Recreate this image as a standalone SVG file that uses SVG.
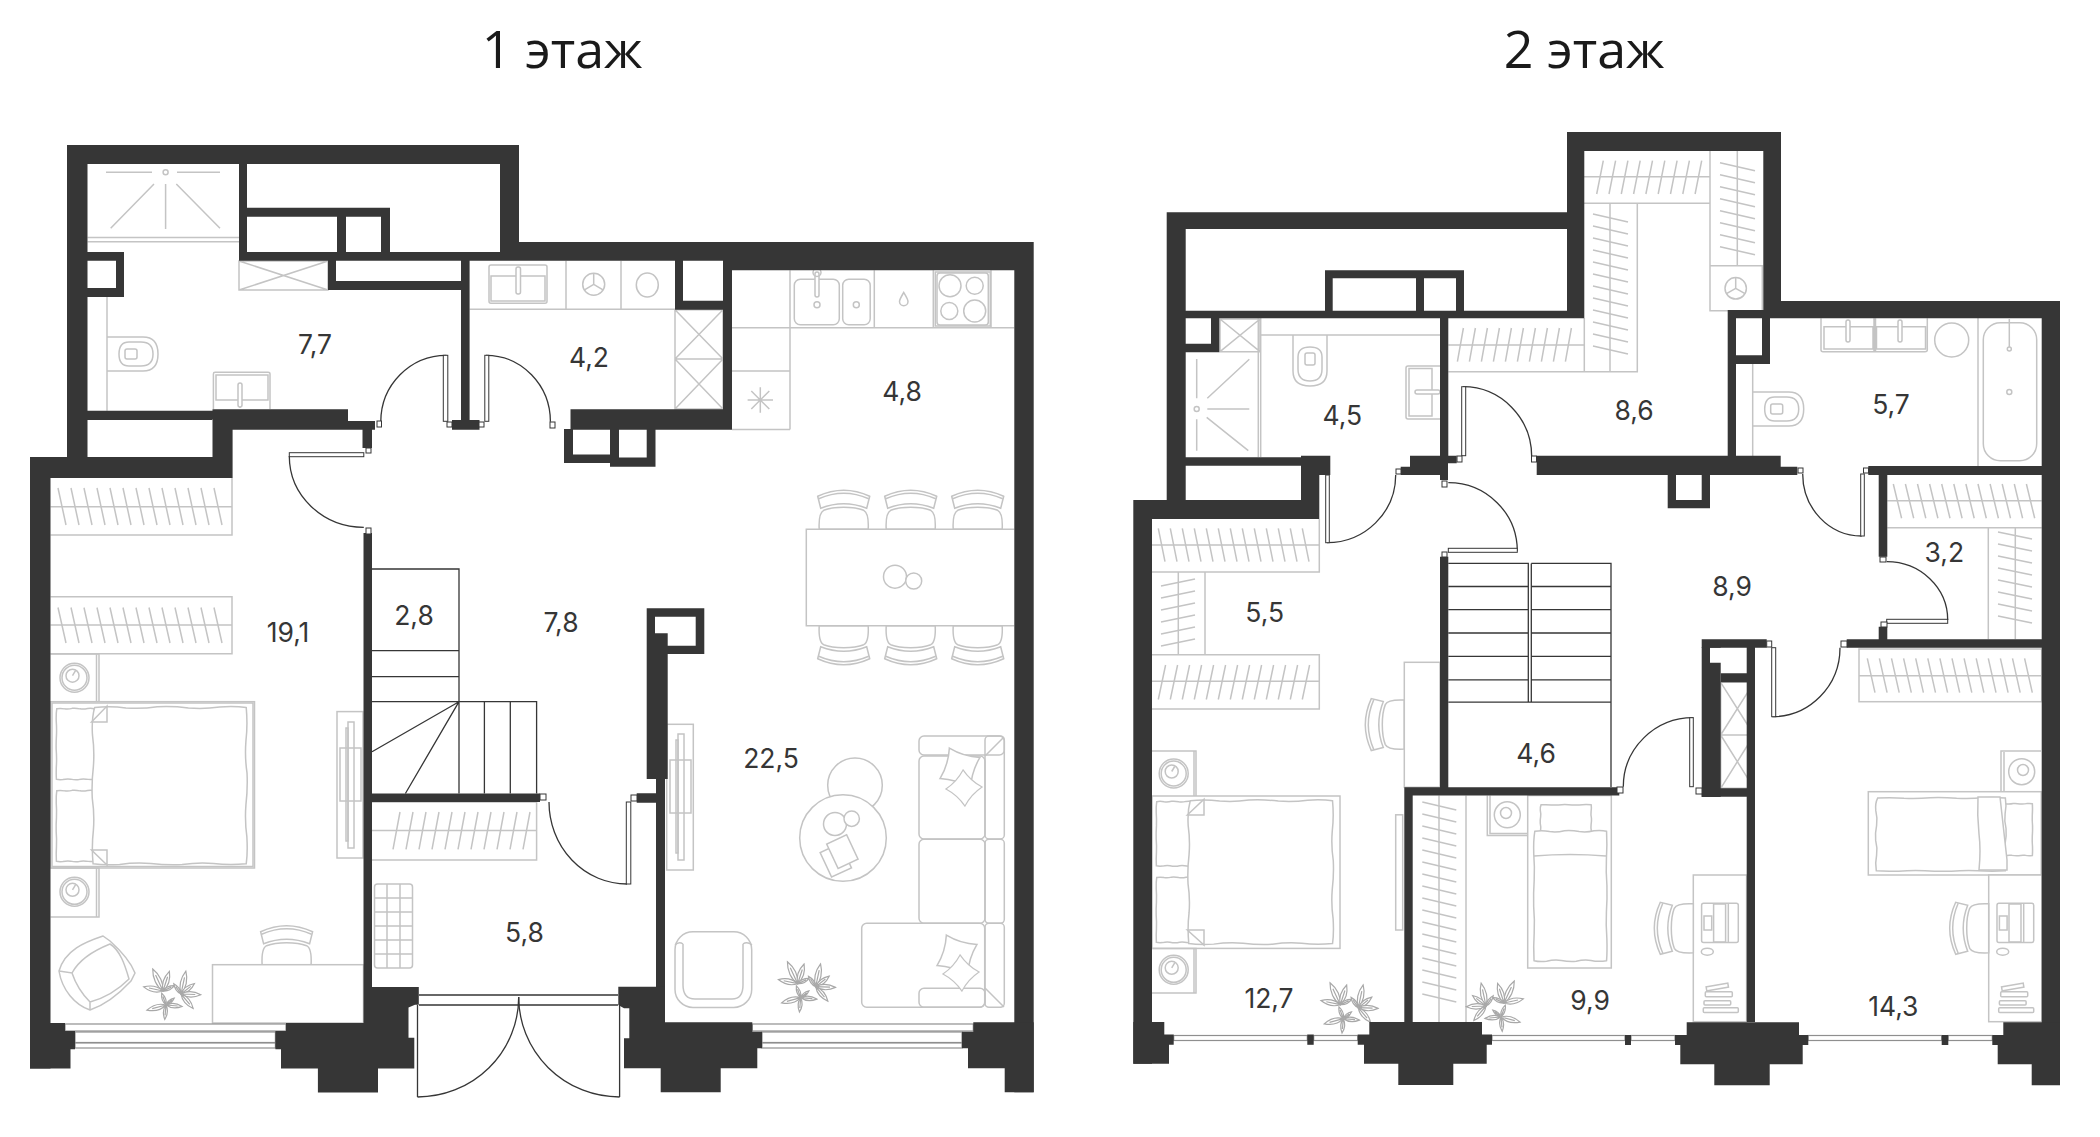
<svg xmlns="http://www.w3.org/2000/svg" width="2100" height="1137" viewBox="0 0 2100 1137">
<style>
.w{fill:#363636}
.e{fill:#363636;fill-rule:evenodd}
.f{fill:none;stroke:#c4c4c4;stroke-width:1.5}
.g{fill:#fff;stroke:#c4c4c4;stroke-width:1.5}
.v{vector-effect:non-scaling-stroke}
.d{fill:none;stroke:#363636;stroke-width:1.3}
.j{fill:#fff;stroke:#363636;stroke-width:1}
.m{fill:#fff;stroke:#8f8f8f;stroke-width:1.2}
.n{font-family:"Inter","Noto Sans",sans-serif;font-size:26.500px;fill:#363636;text-anchor:middle}
.h{font-family:"Open Sans","Noto Sans",sans-serif;font-size:52px;fill:#1a1a1a;text-anchor:middle}
.p{fill:#fff;stroke:#a8a8a8;stroke-width:1.2;vector-effect:non-scaling-stroke}
</style>
<defs>
<g id="ch" class="g"><path d="M-24.5,0C-25,-10 -24,-17 -20,-19C-10,-23 10,-23 20,-19C24,-17 25,-10 24.5,0Z"/><path d="M-26,-33Q0,-45 26,-33L23,-21Q0,-30 -23,-21Z"/><path d="M-25,-30.500Q0,-41.500 25,-30.500" fill="none"/></g>
<path id="blk" class="g v" d="M2,1Q12,0 22,1.200Q32,2 42,.500Q52,0 62,1.200Q72,2 82,.600Q92,0 99,1Q100,12 98.800,22Q98,32 99.500,42Q100,52 98.800,62Q98,72 99.400,82Q100,92 99,99Q88,100 78,98.800Q68,98 58,99.500Q48,100 38,98.800Q28,98 18,99.400Q8,100 1,99Q0,88 1.200,78Q2,68 .500,58Q0,48 1.200,38Q2,28 .600,18Q0,8 2,1Z"/>
<g id="ns" class="f"><circle r="14.500"/><circle r="12.500"/><circle cx="-2" cy="-2" r="6.500"/><path d="M-2,-2L1,-7"/></g>
<g id="wc" class="f"><path d="M0,-17H36Q51,-17 51,0Q51,17 36,17H0"/><path d="M22,-12H34Q46,-12 46,0Q46,12 34,12H22Q12,12 12,0Q12,-12 22,-12Z"/><rect x="18" y="-5" width="12" height="10" rx="2"/></g>
<path id="lf" class="p" d="M0,0C3,-5 3,-12 0,-18C-3,-12 -3,-5 0,0ZM0,0V-13"/>
<g id="pl">
<use href="#lf" transform="translate(-9,-3) rotate(-25) scale(1.350)"/><use href="#lf" transform="translate(-9,-3) rotate(18) scale(1.150)"/><use href="#lf" transform="translate(-9,-3) rotate(-78) scale(1.100)"/><use href="#lf" transform="translate(-9,-3) rotate(65) scale(.7)"/>
<use href="#lf" transform="translate(9,0) rotate(12) scale(1.300)"/><use href="#lf" transform="translate(9,0) rotate(52) scale(.95)"/><use href="#lf" transform="translate(9,0) rotate(92) scale(1.100)"/><use href="#lf" transform="translate(9,0) rotate(140) scale(1.050)"/><use href="#lf" transform="translate(9,0) rotate(-35) scale(.7)"/>
<use href="#lf" transform="translate(-6,11) rotate(-105) scale(1.100)"/><use href="#lf" transform="translate(-6,11) rotate(185) scale(.8)"/><use href="#lf" transform="translate(-6,11) rotate(95) scale(.9)"/><use href="#lf" transform="translate(-6,11) rotate(50) scale(.6)"/><use href="#lf" transform="translate(-6,11) rotate(-20) scale(.7)"/>
</g>
<path id="pw" class="g" d="M-16,-16Q0,-12 16,-16Q12,0 16,16Q0,12 -16,16Q-12,0 -16,-16Z"/>
<g id="dk"><rect class="g" width="53.300" height="146.700"/><use href="#ch" transform="translate(0,53.300) rotate(-90)"/><g class="f"><rect x="8.300" y="28.300" width="36.700" height="39.300" rx="2"/><rect x="20.300" y="29" width="12" height="38"/><path d="M35,29V67"/><rect x="10.700" y="41" width="7.700" height="14"/><ellipse cx="14" cy="76.700" rx="6" ry="3.500"/><rect x="10" y="132.700" width="35" height="4.700" rx="1"/><rect x="10.700" y="125.700" width="26.700" height="4.300" rx="1"/><rect x="12" y="116.700" width="27" height="5" rx="1"/><rect x="13" y="110" width="22" height="4" transform="rotate(-10 24 112)"/></g></g>
<g id="tv" class="f"><rect x="2" y="36" width="21" height="53"/><rect x="10" y="10" width="6" height="126"/><rect x="8" y="16" width="2" height="113"/></g>
</defs>

<text class="h" x="562" y="68">1 этаж</text>
<text class="h" x="1584" y="68">2 этаж</text>

<g id="floor1">
<g id="f1-furniture">
<!-- shower & bath -->
<path class="f" d="M87.500,237.500H239M87.500,241.700H239M106,172.300H152M177,172.300H220M154,184L110.700,228.300M165.600,184V229M176.300,184L220,228.300"/>
<circle class="f" cx="165.600" cy="172.300" r="2.500"/>
<path class="f" d="M239,261H328V290H239ZM239,261L328,290M328,261L239,290"/>
<path class="f" d="M107,297V410.700"/>
<use href="#wc" x="107" y="354"/>
<path class="f" d="M213.400,409V374Q213.400,372.300 215,372.300H268Q270,372.300 270,374V409M216,375H268V400H216ZM240,385V408"/>
<rect class="g" x="238" y="383" width="4" height="24" rx="2"/>
<!-- kitchenette -->
<path class="f" d="M469.600,309.300H675M566,260.700V309.300M621,260.700V309.300"/>
<rect class="f" x="489" y="265" width="58" height="38.300" rx="2"/>
<path class="f" d="M491,276H545V301H491Z"/>
<rect class="g" x="516" y="267" width="4.500" height="27" rx="2"/>
<g class="f"><circle cx="593.700" cy="284.300" r="11"/><path d="M593.700,284.300V273.500M593.700,284.300L603,289.800M593.700,284.300L584.500,289.800"/><ellipse cx="647.300" cy="285" rx="11" ry="12"/></g>
<path class="f" d="M675,309.700H723V409H675ZM675,359H723M675,309.700L723,359M723,309.700L675,359M675,359L723,409M723,359L675,409"/>
<!-- kitchen -->
<path class="f" d="M732,327.700H1014.300M790,270.300V429.500M732,371H790M732,429.500H790M874.300,270.300V327.700M933.300,270.300V327.700M991,270.300V327.700"/>
<rect class="f" x="794.300" y="279.300" width="45" height="45.500" rx="6"/>
<rect class="f" x="842.700" y="279.300" width="27.500" height="45.500" rx="6"/>
<rect class="g" x="815" y="272" width="4" height="25" rx="2"/>
<circle class="f" cx="817" cy="304.700" r="3"/><circle class="f" cx="856.300" cy="304.700" r="3"/><circle class="f" cx="817" cy="272.500" r="4"/>
<path class="f" d="M903.700,292.500C901,297 899.500,299.500 899.500,301.500A4.200,4.200 0 0 0 908,301.500C908,299.500 906.400,297 903.700,292.500Z"/>
<rect class="f" x="935.300" y="272" width="55" height="54"/>
<rect class="f" x="937" y="273" width="51.300" height="52" rx="3"/>
<g class="f"><circle cx="950" cy="285.700" r="11"/><circle cx="974.700" cy="285.700" r="8.500"/><circle cx="949.300" cy="311" r="8.500"/><circle cx="974.700" cy="311" r="11"/></g>
<path class="f" d="M760.300,387.300V412.700M747.600,400H773M751.300,391L769.300,409M769.300,391L751.300,409"/>
<!-- dining -->
<use href="#ch" x="843.700" y="529.300"/><use href="#ch" x="910.700" y="529.300"/><use href="#ch" x="977.700" y="529.300"/>
<use href="#ch" transform="translate(843.700,625.700) scale(1,-1)"/><use href="#ch" transform="translate(910.700,625.700) scale(1,-1)"/><use href="#ch" transform="translate(977.700,625.700) scale(1,-1)"/>
<path class="g" d="M1014.300,529.300H806.300V625.700H1014.300"/>
<circle class="g" cx="895" cy="576.700" r="11.500"/><circle class="g" cx="913.700" cy="581" r="8"/>
<!-- living -->
<rect class="f" x="666.700" y="724.300" width="26.600" height="145.700"/>
<use href="#tv" x="668" y="724"/>
<circle class="g" cx="855" cy="785.300" r="27.300"/><circle class="g" cx="843" cy="838" r="43.300"/>
<circle class="g" cx="835" cy="824" r="11.500"/><circle class="g" cx="851.700" cy="818.700" r="7.700"/>
<rect class="g" x="-13" y="-12" width="22" height="27" transform="translate(837,858) rotate(-25)"/>
<rect class="g" x="-11" y="-15" width="22" height="27" transform="translate(843,853) rotate(-25)"/>
<g class="f"><rect x="985" y="736" width="19.300" height="103" rx="4"/><rect x="985" y="839.300" width="19.300" height="84" rx="4"/><rect x="985" y="923.300" width="19.300" height="84" rx="4"/><rect x="919" y="736" width="85.300" height="19" rx="5"/><rect x="919" y="756" width="66" height="83" rx="5"/><rect x="919" y="839.300" width="66" height="84" rx="5"/><rect x="861.700" y="923.300" width="123" height="84" rx="5"/><rect x="919" y="988.300" width="66" height="19" rx="5"/><path d="M985,756L1004,737M985,988L1004,1007"/></g>
<use href="#pw" transform="translate(960,768) rotate(17)"/><use href="#pw" transform="translate(964,788) rotate(42) scale(.8)"/>
<use href="#pw" transform="translate(957,955) rotate(17)"/><use href="#pw" transform="translate(961,973) rotate(42) scale(.8)"/>
<g class="f"><rect x="675" y="931.700" width="76.700" height="75.700" rx="18"/><path d="M683,944V985Q683,999 695,999H732Q743,999 743,985V944M675,945Q679,941 683,944M743,944Q747,941 752,945"/></g>
<use href="#pl" x="806.700" y="986.700"/>
<!-- bedroom -->
<path class="f" d="M50.500,535H232V478M50.500,506.700H232M50.500,596.700H232V653.800H50.500M50.500,625H232"/>
<path class="f" d="M58,488l8,37m5,-37l8,37m5,-37l8,37m5,-37l8,37m5,-37l8,37m5,-37l8,37m5,-37l8,37m5,-37l8,37m5,-37l8,37m5,-37l8,37m5,-37l8,37m5,-37l8,37m5,-37l8,37"/>
<path class="f" d="M58,607.500l8,35.500m5,-35.500l8,35.500m5,-35.500l8,35.500m5,-35.500l8,35.500m5,-35.500l8,35.500m5,-35.500l8,35.500m5,-35.500l8,35.500m5,-35.500l8,35.500m5,-35.500l8,35.500m5,-35.500l8,35.500m5,-35.500l8,35.500m5,-35.500l8,35.500m5,-35.500l8,35.500"/>
<path class="f" d="M50.500,654H99V701.700M50.500,868H99V917H50.500M96.500,654V701.700M96.500,868V917"/>
<use href="#ns" x="74.500" y="677.700"/><use href="#ns" x="74.500" y="891.800"/>
<rect class="f" x="50.500" y="701.700" width="204" height="166.300"/>
<rect class="f" x="52" y="703" width="201" height="163.500"/>
<use href="#blk" transform="translate(56,708) scale(.386,.72)"/><use href="#blk" transform="translate(56,790) scale(.386,.72)"/>
<use href="#blk" transform="translate(91.500,706) scale(1.563,1.594)"/>
<path class="f" d="M91.500,722L107,706V722ZM91.500,850L107,865V850Z"/>
<rect class="f" x="337" y="711.600" width="26" height="146.400"/>
<use href="#tv" x="338" y="712"/>
<path class="g" d="M59,971C65,950 85,942 103,936L110,941C120,950 130,960 135,973L131,981C118,995 105,1005 90,1010C75,1005 62,990 59,971Z"/>
<path class="f" d="M59,971L72,973C80,958 95,950 110,944C120,950 125,965 129,979C118,990 105,998 90,1002L90,1010M72,973C76,985 83,995 90,1002"/>
<use href="#ch" x="286.600" y="964.700"/>
<rect class="g" x="212.500" y="964.700" width="151" height="58.300"/>
<use href="#pl" x="172" y="994"/>
<!-- hall -->
<g class="f"><path d="M372,802H536.600V860H372M372,830.500H536.600"/>
<path d="M393,849.300l7,-37.300m6,37.300l7,-37.300m6,37.300l7,-37.300m6,37.300l7,-37.300m6,37.300l7,-37.300m6,37.300l7,-37.300m6,37.300l7,-37.300m6,37.300l7,-37.300m6,37.300l7,-37.300m6,37.300l7,-37.300m6,37.300l7,-37.300"/>
<rect x="374.500" y="884" width="38" height="84" rx="3"/><path d="M387,884V968M400,884V968M374.500,898H412.500M374.500,912H412.500M374.500,926H412.500M374.500,940H412.500M374.500,954H412.500"/></g>
<!-- window -->
<g class="m"><rect x="65" y="1024" width="221" height="7"/><rect x="75" y="1032" width="200.400" height="10.500"/><rect x="75" y="1043" width="200.400" height="5"/><rect x="752.300" y="1024" width="221" height="7"/><rect x="762" y="1032" width="200" height="10.500"/><rect x="762" y="1043" width="200" height="5"/></g>
</g>
<g id="f1-walls">
<path class="w" d="M67 145H519V164H67ZM67 145H87.500V457H67ZM500 145H519V252H500ZM239 164H247V260H239ZM239 207.700H390V216.700H239ZM337 207.700H346V252H337ZM381 207.700H390V252H381ZM239 252H519V260.700H239ZM500 242H683V260.700H500ZM723 242H1033.700V270.300H723ZM675 242H723V260.700H675ZM675 252H683V309.700H675ZM675 300.700H732V309.700H675ZM723 242H732V429.700H723ZM570.500 409.300H732V429.700H570.500ZM564 429H573V463H564ZM610 429H619V466.700H610ZM646.700 429H655.500V466.700H646.700ZM564 454.500H619V463H564ZM610 457.500H655.500V466.700H610ZM461 252H469.600V429.700H461ZM452 420H479.500V429.700H452ZM328 260H336V290H328ZM328 281H461V290H328ZM87 252H124V260.700H87ZM116 252H124V297H116ZM87 288H124V297H87ZM87 410.700H212.500V420H87ZM212.500 409.300H348V429.700H212.500ZM348 421H375V429.700H348ZM362.500 429.700H372V448H362.500ZM212.500 429H232.600V478H212.500ZM30 457H232.600V478H30ZM30 457H50.500V1068.500H30ZM363.500 533H372V1024H363.500ZM372 793.500H540V802H372ZM646.700 654H667.700V779H646.700ZM656 779H665V987H656ZM636.700 793.300H656V802.700H636.700ZM1014.300 242H1033.700V1092.300H1014.300Z"/>
<path class="e" d="M646.700,608.300H704.300V654H646.700ZM655,616.700V633.300H667.700V645.700H695.700V616.700Z"/>
<polygon class="w" points="30,1023 65,1023 65,1031 75,1031 75,1049.300 70.500,1049.300 70.500,1068.500 30,1068.500"/>
<polygon class="w" points="286,1023 286,1031 275.400,1031 275.400,1049.300 281,1049.300 281,1068.500 317.900,1068.500 317.900,1092.500 378,1092.500 378,1068.500 414.300,1068.500 414.300,1037.700 408.500,1037.700 408.500,1007.500 415,1004.800 418.800,1004.800 418.800,987 372,987 372,1023"/>
<polygon class="w" points="618.300,986.700 665,986.700 665,1022.300 752.300,1022.300 752.300,1031.700 762,1031.700 762,1048.300 757.300,1048.300 757.300,1068.300 720.700,1068.300 720.700,1092.300 660.700,1092.300 660.700,1068.300 624,1068.300 624,1038.300 629.300,1038.300 629.300,1008.300 624,1008.300 618.300,1005"/>
<polygon class="w" points="1014.300,1022.300 973.300,1022.300 973.300,1031.700 962,1031.700 962,1048.300 968,1048.300 968,1068.300 1004.700,1068.300 1004.700,1092.300 1033.700,1092.300 1033.700,1022.300"/>
</g>
<g id="f1-stairs" class="d">
<path d="M372,569H459V793.500M372,650.700H459M372,676.700H459M372,701.700H536.600V793.500M484.400,701.700V793.500M510.300,701.700V793.500M459,701.700L372,751.700M459,701.700L405.400,793.500"/>
</g>
<g id="f1-doors">
<g class="d"><path d="M446.400,355.300A65.600,66.400 0 0 0 380.800,421.700"/><path d="M486,355.300A64.400,66.400 0 0 1 550.400,421.700"/><path d="M289.300,456A74.500,71.300 0 0 0 363.800,527.300"/><path d="M549,802A78,82 0 0 0 627,884"/><path d="M518.700,997A101.200,100 0 0 1 417.500,1097"/><path d="M518.700,997A100.900,100 0 0 0 619.600,1097"/><path d="M417.500,1005V1097M619.600,1005V1097M419,995H618M419,1005H618"/></g>
<g class="j"><rect x="443.300" y="355.300" width="4.500" height="66"/><rect x="484.800" y="355.300" width="4" height="66"/><rect x="289.300" y="452.700" width="74.500" height="4"/><rect x="626.300" y="802" width="4.500" height="82"/>
<rect x="377" y="421" width="4.500" height="6"/><rect x="447" y="422" width="5" height="5"/><rect x="479" y="422" width="5" height="5"/><rect x="550" y="422" width="5" height="6"/><rect x="366" y="448" width="5" height="5"/><rect x="366" y="528" width="5" height="6"/><rect x="540" y="794" width="6" height="6"/><rect x="631" y="795" width="6" height="6"/></g>
</g>
<text class="n" x="315" y="354">7,7</text>
<text class="n" x="589" y="367">4,2</text>
<text class="n" x="902" y="401">4,8</text>
<text class="n" x="414" y="625">2,8</text>
<text class="n" x="561" y="632">7,8</text>
<text class="n" x="288" y="642">19,1</text>
<text class="n" x="524.500" y="942">5,8</text>
<text class="n" x="771" y="768">22,5</text>
</g>

<g id="floor2">
<g id="f2-furniture">
<!-- walk-in -->
<path class="f" d="M1584,203.300H1710M1584,176.700H1710M1710,151V310.700H1762.300V265.700H1710M1763.300,265.700H1710M1737.300,151V265.700M1637.300,203.300V371.700H1448.300M1584.300,318V371.700M1610,203.300V371.700M1448.300,345H1584.300"/>
<path class="f" d="M1596.700,194l6.600,-33.300m5.700,33.300l6.600,-33.300m5.700,33.300l6.600,-33.300m5.700,33.300l6.600,-33.300m5.700,33.300l6.600,-33.300m5.700,33.300l6.600,-33.300m5.700,33.300l6.600,-33.300m5.700,33.300l6.600,-33.300m5.700,33.300l6.600,-33.300"/>
<path class="f" d="M1720,162.700l35,8m-35,4l35,8m-35,4l35,8m-35,4l35,8m-35,4l35,8m-35,4l35,8m-35,4l35,8m-35,4l35,8"/>
<path class="f" d="M1593,214l35,8m-35,4l35,8m-35,4l35,8m-35,4l35,8m-35,4l35,8m-35,4l35,8m-35,4l35,8m-35,4l35,8m-35,4l35,8m-35,4l35,8m-35,4l35,8m-35,4l35,8"/>
<path class="f" d="M1457.400,361.700l6,-33.700m6,33.700l6,-33.700m6,33.700l6,-33.700m6,33.700l6,-33.700m6,33.700l6,-33.700m6,33.700l6,-33.700m6,33.700l6,-33.700m6,33.700l6,-33.700m6,33.700l6,-33.700m6,33.700l6,-33.700"/>
<g class="f"><circle cx="1735.700" cy="288.300" r="10.700"/><path d="M1735.700,288.300V277.600M1735.700,288.300L1745,293.700M1735.700,288.300L1726.500,293.700"/></g>
<!-- bath 4.5 -->
<path class="f" d="M1258.300,318V457M1260.700,318V457M1260,335H1440M1220,319H1260V351.700H1220ZM1220,319L1260,351.700M1260,319L1220,351.700M1196.700,359V398.300M1196.700,419.300V450.700M1207.300,398.300L1249.300,359.300M1207.300,409H1249.300M1206.700,417.300L1248.300,450.700"/>
<circle class="f" cx="1196.700" cy="409" r="2.500"/>
<use href="#wc" transform="translate(1310,335) rotate(90)"/>
<path class="f" d="M1440,366H1408Q1406,366 1406,368V417Q1406,419 1408,419H1440M1409,368.500H1432V416H1409Z"/>
<rect class="g" x="1415" y="390" width="25" height="4" rx="2"/>
<!-- bath 5.7 -->
<path class="f" d="M1821,318.300V350Q1821,351.700 1823,351.700H1925Q1927.300,351.700 1927.300,350V318.300M1874,318.300V351.700M1875.500,318.300V351.700M1824,326.700H1873V349H1824ZM1876.500,326.700H1925.500V349H1876.500Z"/>
<rect class="g" x="1846" y="320" width="4" height="22" rx="2"/><rect class="g" x="1898" y="320" width="4" height="22" rx="2"/>
<circle class="f" cx="1951.700" cy="340" r="17"/>
<path class="f" d="M1978,318V466"/>
<rect class="f" x="1983.300" y="322.700" width="53.400" height="138" rx="17"/>
<path class="f" d="M2009.300,319V348"/><circle class="g" cx="2009.300" cy="349" r="2"/><circle class="g" cx="2009.300" cy="392" r="2.500"/>
<path class="f" d="M1752.700,364V456"/>
<use href="#wc" x="1752.700" y="409"/>
<!-- closet 3.2 -->
<path class="f" d="M1887.300,527.700H2041.700M1887.300,500.700H2041.700M1988.300,527.700V639.300M2015.300,527.700V639.300"/>
<path class="f" d="M1893.300,484l8.300,34.300m3.800,-34.300l8.300,34.300m3.800,-34.300l8.300,34.300m3.800,-34.300l8.300,34.300m3.800,-34.300l8.300,34.300m3.800,-34.300l8.300,34.300m3.800,-34.300l8.300,34.300m3.800,-34.300l8.300,34.300m3.800,-34.300l8.300,34.300m3.800,-34.300l8.300,34.300m3.800,-34.300l8.300,34.300m3.800,-34.300l8.300,34.300"/>
<path class="f" d="M1998,532l34,7m-34,5l34,7m-34,5l34,7m-34,5l34,7m-34,5l34,7m-34,5l34,7m-34,5l34,7m-34,5l34,7"/>
<!-- room 14.3 -->
<rect class="f" x="1859" y="649" width="182.700" height="52.700"/>
<path class="f" d="M1859,675.700H2041.700"/>
<path class="f" d="M1867.300,658.300l7.700,34.400m4.400,-34.400l7.700,34.400m4.400,-34.400l7.700,34.400m4.400,-34.400l7.700,34.400m4.400,-34.400l7.700,34.400m4.400,-34.400l7.700,34.400m4.400,-34.400l7.700,34.400m4.400,-34.400l7.700,34.400m4.400,-34.400l7.700,34.400m4.400,-34.400l7.700,34.400m4.400,-34.400l7.700,34.400m4.400,-34.400l7.700,34.400m4.400,-34.400l7.700,34.400m4.400,-34.400l7.700,34.400"/>
<path class="f" d="M2041,751H2001V791.700M2004,752V791.700"/>
<g class="f"><circle cx="2021.700" cy="771.700" r="13"/><circle cx="2023" cy="770" r="5.500"/></g>
<rect class="f" x="1868.300" y="791.700" width="173" height="83.300"/>
<use href="#blk" transform="translate(1999,803.300) scale(.337,.527)"/>
<use href="#blk" transform="translate(1875,797.300) scale(1.317,.743)"/>
<path class="g" d="M1978,797L2000,797L2007,860L2007,870L1979,870Q1981,850 1979,834Q1977,815 1978,797Z"/>
<use href="#dk" x="1693.300" y="875"/><use href="#dk" x="1988.700" y="875"/>
<!-- room 12.7 -->
<path class="f" d="M1152,572H1319.300V519M1152,545H1319.300M1205,572V654.700M1178.300,572V654.700M1152,654.700H1319.300V709H1152M1152,681.200H1319.300"/>
<path class="f" d="M1158.300,528.300l6.700,33.400m5.300,-33.400l6.700,33.400m5.300,-33.400l6.700,33.400m5.300,-33.400l6.700,33.400m5.300,-33.400l6.700,33.400m5.300,-33.400l6.700,33.400m5.300,-33.400l6.700,33.400m5.300,-33.400l6.700,33.400m5.300,-33.400l6.700,33.400m5.300,-33.400l6.700,33.400m5.300,-33.400l6.700,33.400m5.300,-33.400l6.700,33.400m5.300,-33.400l6.700,33.400"/>
<path class="f" d="M1161,586l34,-7m-34,19l34,-7m-34,19l34,-7m-34,19l34,-7m-34,19l34,-7m-34,19l34,-7"/>
<path class="f" d="M1158.300,699.500l7.300,-34.500m4.700,34.500l7.300,-34.500m4.700,34.500l7.300,-34.500m4.700,34.500l7.300,-34.500m4.700,34.500l7.300,-34.500m4.700,34.500l7.300,-34.500m4.700,34.500l7.300,-34.500m4.700,34.500l7.300,-34.500m4.700,34.500l7.300,-34.500m4.700,34.500l7.300,-34.500m4.700,34.500l7.300,-34.500m4.700,34.500l7.300,-34.500m4.700,34.500l7.300,-34.500"/>
<use href="#ch" transform="translate(1404.300,724.600) rotate(-90)"/>
<rect class="g" x="1404.300" y="662.300" width="35.700" height="125"/>
<path class="f" d="M1152,751H1196V796M1194,751V796M1152,948.400H1196V993H1152M1194,948.400V993"/>
<use href="#ns" x="1173.700" y="773.500"/><use href="#ns" x="1173.700" y="969.800"/>
<rect class="f" x="1152" y="796" width="188" height="152.400"/>
<use href="#blk" transform="translate(1156,801) scale(.367,.655)"/><use href="#blk" transform="translate(1156,876.800) scale(.367,.662)"/>
<use href="#blk" transform="translate(1187.300,799.300) scale(1.467,1.457)"/>
<path class="f" d="M1187.300,815L1204,799.300V815ZM1187.300,930L1204,945V930Z"/>
<use href="#pl" x="1349.300" y="1007.700"/>
<rect class="f" x="1395.700" y="814.800" width="7" height="115.200"/>
<!-- room 9.9 -->
<path class="f" d="M1466,795.500V1022M1439,795.500V1022"/>
<path class="f" d="M1422.300,802l34,8m-34,4l34,8m-34,4l34,8m-34,4l34,8m-34,4l34,8m-34,4l34,8m-34,4l34,8m-34,4l34,8m-34,4l34,8m-34,4l34,8m-34,4l34,8m-34,4l34,8m-34,4l34,8m-34,4l34,8m-34,4l34,8m-34,4l34,8m-34,4l34,8"/>
<use href="#pl" transform="translate(1495,1006) scale(-1,1)"/>
<path class="f" d="M1487.300,795.500V835.500H1528M1490,795.500V833.500H1528"/>
<g class="f"><circle cx="1507.300" cy="814.800" r="13"/><circle cx="1506" cy="813" r="5.500"/></g>
<rect class="f" x="1527.700" y="795.500" width="83.600" height="172.500"/>
<use href="#blk" transform="translate(1540,804.500) scale(.517,.325)"/>
<use href="#blk" transform="translate(1533.300,830) scale(.74,1.32)"/>
<path class="f" d="M1534,856Q1570,853 1606,856"/>
<!-- windows -->
<g class="m"><rect x="1173.700" y="1035.500" width="133.600" height="5"/><rect x="1313.700" y="1035.500" width="44" height="5"/><rect x="1492" y="1035.500" width="133" height="5"/><rect x="1631" y="1035.500" width="44" height="5"/><rect x="1808" y="1035.500" width="133.700" height="5"/><rect x="1948" y="1035.500" width="44.300" height="5"/></g>
<!-- shafts -->
<path class="f" d="M1720.700,682.300H1754V735H1720.700ZM1720.700,735H1754V788.300H1720.700ZM1720.700,682.300L1754,735M1754,682.300L1720.700,735M1720.700,735L1754,788.300M1754,735L1720.700,788.300"/>
</g>
<g id="f2-stairs" class="d"><path d="M1448.300,563.400H1528.300V702.200M1531.300,563.400H1611V787M1448.300,586.500H1528.300M1531.300,586.500H1611M1448.300,609.600H1528.300M1531.300,609.600H1611M1448.300,633H1528.300M1531.300,633H1611M1448.300,656.400H1528.300M1531.300,656.400H1611M1448.300,679.800H1528.300M1531.300,679.800H1611M1448.300,702.200H1611M1531.300,563.400V702.200"/></g>
<g id="f2-walls">
<path class="w" d="M1567 132H1781V151H1567ZM1567 132H1584.300V318.300H1567ZM1763.300 132H1781V318.300H1763.300ZM1166.700 212.300H1584V229H1166.700ZM1166.700 212.300H1185.700V519H1166.700ZM1166.700 310.700H1584.300V318.300H1166.700ZM1325 270.300H1464V278.300H1325ZM1325 270.300H1332.700V311H1325ZM1416 270.300H1424V311H1416ZM1456 270.300H1464V311H1456ZM1440 318H1448.300V463H1440ZM1211 318H1219.300V352.300H1211ZM1185 343.700H1219.300V352.300H1185ZM1185 457.300H1330.300V465.700H1185ZM1301 455.700H1330.300V475H1301ZM1301 475H1319.300V519H1301ZM1133.300 500H1319.300V519H1133.300ZM1133.300 500H1152V1063.800H1133.300ZM1410 455.700H1448V475H1410ZM1400.700 466.700H1410V475H1400.700ZM1448 455.700H1456.700V463.300H1448ZM1440 475H1448V480H1440ZM1440 556.700H1448.300V787.500H1440ZM1536.700 455.700H1780.700V475H1536.700ZM1780 466.700H1797.300V475H1780ZM1868.300 466H2041.700V475H1868.300ZM1781 301H2060V318.300H1781ZM2041.700 301H2060V1085H2041.700ZM1727.700 310H1736V460H1727.700ZM1727.700 310H1770V318.300H1727.700ZM1727.700 355.300H1770V364H1727.700ZM1762 310H1770V364H1762ZM1667.700 475H1676V508.300H1667.700ZM1701.700 475H1710V508.300H1701.700ZM1667.700 500H1710V508.300H1667.700ZM1878.700 475H1887.300V556.700H1878.700ZM1878.700 626.700H1887.300V640H1878.700ZM1846.700 639.300H2041.700V647.700H1846.700ZM1701.700 639.300H1766.700V647.700H1701.700ZM1720.700 673.300H1755V682.300H1720.700ZM1701.700 788.300H1755V796.700H1701.700ZM1746.700 647H1755V1022H1746.700ZM1404.300 787.300H1619.300V795.500H1404.300ZM1404.300 787.300H1412.700V1022H1404.300Z"/>
<path class="e" d="M1701.700,647H1720.700V797H1701.700ZM1710,647.700V662.700H1720.700V647.700Z"/>
<polygon class="w" points="1133.300,1022 1164.300,1022 1164.300,1034.500 1173.700,1034.500 1173.700,1044.800 1169,1044.800 1169,1063.800 1133.300,1063.800"/>
<polygon class="w" points="1369.300,1022 1482,1022 1482,1034.500 1492,1034.500 1492,1044.800 1486.700,1044.800 1486.700,1063.800 1453.300,1063.800 1453.300,1085 1398.300,1085 1398.300,1063.800 1364,1063.800 1364,1044.800 1357.700,1044.800 1357.700,1034.500 1369.300,1034.500"/>
<polygon class="w" points="1686.700,1022.300 1799,1022.300 1799,1035 1808.300,1035 1808.300,1045 1802.700,1045 1802.700,1064.300 1769.700,1064.300 1769.700,1085.300 1714.300,1085.300 1714.300,1064.300 1680.300,1064.300 1680.300,1045 1675,1045 1675,1035 1686.700,1035"/>
<polygon class="w" points="2041.700,1022.300 2003.300,1022.300 2003.300,1035 1992.300,1035 1992.300,1045 1997.700,1045 1997.700,1064.300 2031.700,1064.300 2031.700,1085.300 2060,1085.300 2060,1022.300"/>
<rect class="w" x="1307.300" y="1034.500" width="6.400" height="10.300"/>
<rect class="w" x="1625" y="1035" width="6" height="10"/>
<rect class="w" x="1941.700" y="1035" width="6.600" height="10"/>
</g>
<g id="f2-doors">
<g class="d"><path d="M1327,542.700A68.700,67.700 0 0 0 1395.700,475"/><path d="M1463,386.700A68.700,70 0 0 1 1531.700,456.700"/><path d="M1448.300,482.700A69,68.300 0 0 1 1517.300,551"/><path d="M1802.700,474A59,62 0 0 0 1861.700,536"/><path d="M1886.700,561.700A61,58.300 0 0 1 1947.700,620"/><path d="M1840,647.700A67.700,69 0 0 1 1772.300,716.700"/><path d="M1693.300,717.700A70,69 0 0 0 1623.300,786.700"/></g>
<g class="j"><rect x="1325.700" y="475" width="3.600" height="67.700"/><rect x="1461.700" y="386.700" width="4" height="69"/><rect x="1448.300" y="548.300" width="69" height="4"/><rect x="1860.700" y="474" width="3.600" height="62"/><rect x="1886.700" y="619.300" width="61" height="4"/><rect x="1771.700" y="647.700" width="4" height="69"/><rect x="1689.700" y="717.700" width="3.600" height="69"/>
<rect x="1396" y="469" width="5" height="5"/><rect x="1457" y="456" width="5" height="6"/><rect x="1531.500" y="456" width="5" height="6"/><rect x="1442" y="481" width="5" height="6"/><rect x="1442" y="552" width="5" height="5"/><rect x="1798" y="468" width="5" height="5"/><rect x="1863.500" y="468" width="5" height="5"/><rect x="1880" y="557" width="6" height="5"/><rect x="1881" y="622" width="6" height="5"/><rect x="1766.700" y="641" width="5" height="6"/><rect x="1841" y="641" width="6" height="6"/><rect x="1696" y="788" width="6" height="6"/><rect x="1617" y="787" width="6" height="6"/></g>
</g>
<text class="n" x="1342.300" y="425">4,5</text>
<text class="n" x="1634" y="420">8,6</text>
<text class="n" x="1891" y="414">5,7</text>
<text class="n" x="1944.300" y="562">3,2</text>
<text class="n" x="1732" y="596">8,9</text>
<text class="n" x="1264.700" y="622">5,5</text>
<text class="n" x="1536" y="762.500">4,6</text>
<text class="n" x="1269" y="1008">12,7</text>
<text class="n" x="1590" y="1010">9,9</text>
<text class="n" x="1893.300" y="1016">14,3</text>
</g>
</svg>
